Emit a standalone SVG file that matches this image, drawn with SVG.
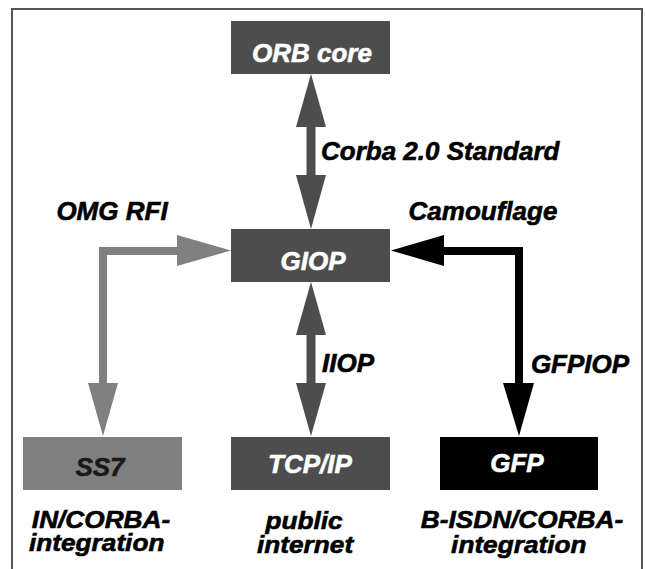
<svg xmlns="http://www.w3.org/2000/svg" width="645" height="569" viewBox="0 0 645 569">
  <style>
    text { font-family: "Liberation Sans", Arial, sans-serif; font-weight: bold; font-style: italic; font-size: 26px; stroke-width: 0.6px; }
    .lbl { fill: #000; stroke: #000; }
    .cap { fill: #000; stroke: #000; font-size: 24.5px; }
    .light { fill: #fff; stroke: #fff; }
    .dim { fill: #1a1a1a; stroke: #1a1a1a; }
    .darkbox { fill: #4d4d4d; }
    .greybox { fill: #808080; }
    .blackbox { fill: #000; }
    .shaft-dark { stroke: #4d4d4d; stroke-width: 9; fill: none; }
    .shaft-grey { stroke: #808080; stroke-width: 8; fill: none; stroke-linejoin: miter; }
    .shaft-black { stroke: #000; stroke-width: 8; fill: none; stroke-linejoin: miter; }
  </style>

  <rect width="645" height="569" fill="#fff"/>
  <!-- outer frame, open at the bottom -->
  <rect x="12" y="9" width="630" height="620" fill="none" stroke="#555" stroke-width="2"/>

  <g id="connectors">
    <!-- ORB core <-> GIOP -->
    <g id="c-corba">
      <line class="shaft-dark" x1="311" y1="120" x2="311" y2="182"/>
      <polygon class="darkbox" points="311,74 326,127 296,127"/>
      <polygon class="darkbox" points="311,229 326,175 296,175"/>
    </g>
    <!-- GIOP <-> TCP/IP -->
    <g id="c-iiop">
      <line class="shaft-dark" x1="311" y1="328" x2="311" y2="390"/>
      <polygon class="darkbox" points="311,282 326,335 296,335"/>
      <polygon class="darkbox" points="311,436 326,383 296,383"/>
    </g>
    <!-- SS7 <-> GIOP -->
    <g id="c-omg">
      <polyline class="shaft-grey" points="103,390 103,251 182,251"/>
      <polygon class="greybox" points="231,250.5 177,235 177,266"/>
      <polygon class="greybox" points="103,436 88,383 118,383"/>
    </g>
    <!-- GFP <-> GIOP -->
    <g id="c-gfpiop">
      <polyline class="shaft-black" points="519,390 519,251 438,251"/>
      <polygon class="blackbox" points="391,250.5 444,235 444,266"/>
      <polygon class="blackbox" points="519,436 503,383 534,383"/>
    </g>
    <text class="lbl" x="321" y="160">Corba 2.0 Standard</text>
    <text class="lbl" x="112" y="220" text-anchor="middle">OMG RFI</text>
    <text class="lbl" x="483" y="220" text-anchor="middle">Camouflage</text>
    <text class="lbl" x="348" y="372" text-anchor="middle">IIOP</text>
    <text class="lbl" x="580" y="373" text-anchor="middle">GFPIOP</text>
  </g>

  <g id="orb-core">
    <rect class="darkbox" x="231" y="21" width="159" height="53"/>
    <text class="light" x="312" y="62" text-anchor="middle">ORB core</text>
  </g>

  <g id="giop">
    <rect class="darkbox" x="231" y="229" width="159" height="53"/>
    <text class="light" x="313" y="270" text-anchor="middle">GIOP</text>
  </g>

  <g id="ss7">
    <rect class="greybox" x="23" y="437" width="159" height="53"/>
    <text class="dim" x="100" y="476" text-anchor="middle">SS7</text>
    <text class="cap" transform="translate(101 528) scale(1.07 1)" text-anchor="middle"><tspan x="0" y="0">IN/CORBA-</tspan><tspan x="-4" y="23">integration</tspan></text>
  </g>

  <g id="tcp-ip">
    <rect class="darkbox" x="231" y="437" width="159" height="53"/>
    <text class="light" x="310" y="473" text-anchor="middle">TCP/IP</text>
    <text class="cap" transform="translate(304 529) scale(1.07 1)" text-anchor="middle"><tspan x="0" y="0">public</tspan><tspan x="1" y="24">internet</tspan></text>
  </g>

  <g id="gfp">
    <rect class="blackbox" x="440" y="437" width="158" height="53"/>
    <text class="light" x="517" y="472" text-anchor="middle">GFP</text>
    <text class="cap" transform="translate(522 528) scale(1.07 1)" text-anchor="middle"><tspan x="0" y="0">B-ISDN/CORBA-</tspan><tspan x="-3" y="25">integration</tspan></text>
  </g>
</svg>
